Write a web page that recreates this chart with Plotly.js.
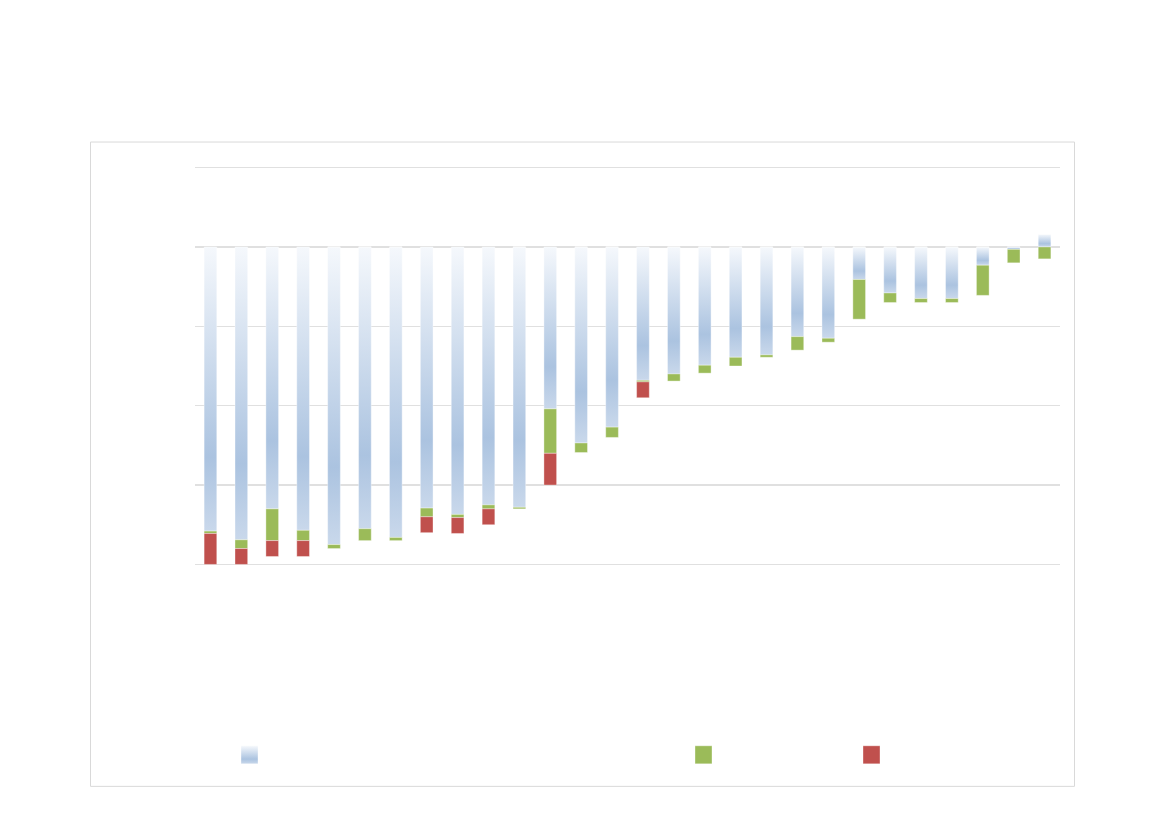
<!DOCTYPE html>
<html>
<head>
<meta charset="utf-8">
<script src="https://cdn.plot.ly/plotly-3.0.1.min.js"></script>
<style>
  html, body { margin: 0; padding: 0; background: #ffffff; }
  #chart { width: 1169px; height: 826px; }
</style>
</head>
<body>
<svg width="0" height="0" style="position:absolute">
  <defs>
    <linearGradient id="blueGrad" x1="0" y1="0" x2="0" y2="1" gradientUnits="objectBoundingBox">
      <stop offset="0" stop-color="#f5f8fc"/>
      <stop offset="0.74" stop-color="#abc3e0"/>
      <stop offset="1" stop-color="#c9d8eb"/>
    </linearGradient>
  </defs>
</svg>
<div id="chart"></div>
<script>
// Categories (no labels are shown in the reference)
const categories = ['1','2','3','4','5','6','7','8','9','10','11','12','13','14',
                    '15','16','17','18','19','20','21','22','23','24','25','26','27','28'];

// Series values (gridline step = 10)
const blueValues  = [-35.8, -36.9, -33.0, -35.7, -37.5, -35.5, -36.6, -32.9, -33.7, -32.5,
                     -32.8, -20.4, -24.7, -22.7, -16.8, -16.0, -14.9, -13.9, -13.6, -11.3,
                     -11.5, -4.1, -5.8, -6.5, -6.5, -2.3, -0.3, 1.6];
const greenValues = [-0.3, -1.1, -4.0, -1.3, -0.5, -1.5, -0.4, -1.1, -0.4, -0.5,
                     -0.2, -5.6, -1.2, -1.3, -0.2, -0.9, -1.0, -1.1, -0.3, -1.7,
                     -0.5, -5.0, -1.2, -0.5, -0.5, -3.8, -1.7, -1.5];
const redValues   = [-3.9, -2.0, -2.0, -2.0, 0, 0, 0, -2.0, -2.0, -2.0,
                     0, -4.0, 0, 0, -2.0, 0, 0, 0, 0, 0,
                     0, 0, 0, 0, 0, 0, 0, 0];

const yRange = [-40.2, 10.2];

const edge = {color: 'rgba(255,255,255,0.45)', width: 0.8};

const traces = [
  {type: 'bar', x: categories, y: blueValues, name: '\u00a0', legend: 'legend',
   marker: {color: '#b5cbe4', line: edge}, hoverinfo: 'y'},
  {type: 'bar', x: categories, y: greenValues, name: '\u00a0', legend: 'legend2',
   marker: {color: '#9bbb59', line: edge}, hoverinfo: 'y'},
  {type: 'bar', x: categories, y: redValues, name: '\u00a0', legend: 'legend3',
   marker: {color: '#c0504d', line: edge}, hoverinfo: 'y'}
];

const W = 1169, H = 826;
// pixel rows of the +10 and -40 gridlines
const g10 = 168, gm40 = 564;
const pxPerUnit = (gm40 - g10) / 50;
const T = g10 - (yRange[1] - 10) * pxPerUnit;
const B = gm40 + (-40 - yRange[0]) * pxPerUnit;
const L = 195, R = 1060;
const pw = R - L, ph = B - T;
const px = p => (p - L) / pw;
const py = p => (B - p) / ph;

const legendBase = {orientation: 'h', yanchor: 'middle', xanchor: 'left',
  bgcolor: 'rgba(0,0,0,0)', borderwidth: 0, font: {size: 12, color: '#595959'}};

const layout = {
  width: W, height: H,
  margin: {l: L, r: W - R, t: T, b: H - B, pad: 0},
  paper_bgcolor: '#ffffff', plot_bgcolor: '#ffffff',
  barmode: 'relative',
  bargap: 0.59,
  showlegend: true,
  legend:  Object.assign({}, legendBase, {x: px(249.5), y: py(754)}),
  legend2: Object.assign({}, legendBase, {x: px(703.5), y: py(754)}),
  legend3: Object.assign({}, legendBase, {x: px(871.5), y: py(754)}),
  xaxis: {showgrid: false, zeroline: false, showline: false, showticklabels: false,
          ticks: '', fixedrange: true},
  yaxis: {range: yRange, dtick: 10, tick0: 0, showgrid: true, gridcolor: '#e0e0e0',
          gridwidth: 1.5, zeroline: false, showline: false, showticklabels: false,
          ticks: '', fixedrange: true},
  shapes: [
    {type: 'rect', xref: 'paper', yref: 'paper', layer: 'below',
     x0: px(90.5), x1: px(1074.5), y0: py(785.5), y1: py(142.5),
     line: {color: '#d9d9d9', width: 1}, fillcolor: 'rgba(0,0,0,0)'}
  ]
};

function applyGradient() {
  const gd = document.getElementById('chart');
  const blueTrace = gd.querySelectorAll('.barlayer .trace')[0];
  if (blueTrace) {
    blueTrace.querySelectorAll('.point path').forEach(p => { p.style.fill = 'url(#blueGrad)'; });
  }
  gd.querySelectorAll('.infolayer [class^="legend"] [clip-path]').forEach(el => {
    el.removeAttribute('clip-path');
  });
  gd.querySelectorAll('.legendpoints path').forEach(p => {
    p.removeAttribute('transform');
    p.setAttribute('d', 'M8.5,9H-8.5V-9H8.5Z');
  });
  const firstLegend = gd.querySelector('.legend .legendpoints path');
  if (firstLegend) firstLegend.style.fill = 'url(#blueGrad)';
}

Plotly.newPlot('chart', traces, layout, {displayModeBar: false, staticPlot: true}).then(gd => {
  applyGradient();
  gd.on('plotly_afterplot', applyGradient);
});
</script>
</body>
</html>
